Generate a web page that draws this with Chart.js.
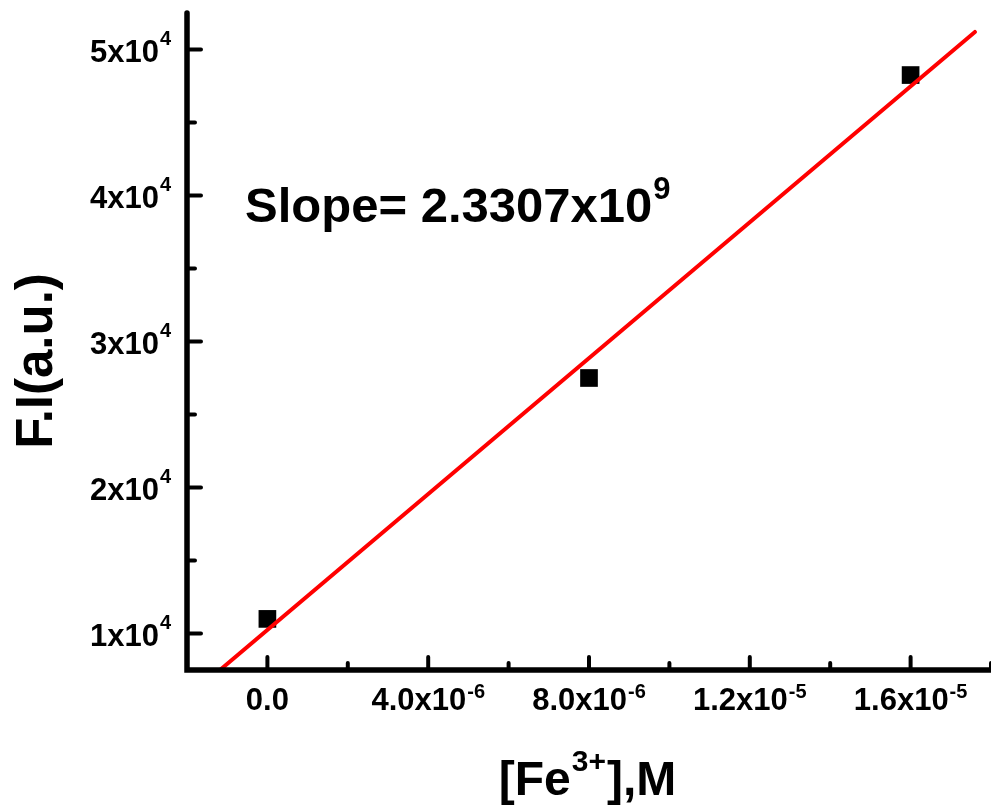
<!DOCTYPE html>
<html>
<head>
<meta charset="utf-8">
<script src="https://cdn.jsdelivr.net/npm/chart.js@4.4.0/dist/chart.umd.min.js"></script>
<style>
  html, body { margin: 0; padding: 0; background: #fff; }
  canvas { display: block; }
</style>
</head>
<body>
<canvas id="chart" width="991" height="805"></canvas>
<script>
// measured points
const concentrations = [0, 8e-6, 1.6e-5];
const intensities = [11000, 27500, 48250];

// ends of the fitted line
const fitX = [-1.18e-6, 1.76e-5];
const fitY = [7500, 51200];

// axes
const xTicks = [0, 4e-6, 8e-6, 1.2e-5, 1.6e-5];
const xTickLabels = [['0.0', ''], ['4.0x10', '-6'], ['8.0x10', '-6'], ['1.2x10', '-5'], ['1.6x10', '-5']];
const xMinorTicks = [2e-6, 6e-6, 1e-5, 1.4e-5, 1.8e-5];
const yTicks = [10000, 20000, 30000, 40000, 50000];
const yTickLabels = [['1x10', '4'], ['2x10', '4'], ['3x10', '4'], ['4x10', '4'], ['5x10', '4']];
const yMinorTicks = [15000, 25000, 35000, 45000];

const FONT = '"Liberation Sans", Arial, sans-serif';

function font(size) {
  return 'bold ' + size + 'px ' + FONT;
}

// width of base text plus its superscript
function supWidth(ctx, base, sup, size, supSize) {
  ctx.font = font(size);
  let w = ctx.measureText(base).width;
  if (sup) {
    ctx.font = font(supSize);
    w += 1 + ctx.measureText(sup).width;
  }
  return w;
}
// draws base text followed by a raised superscript
function drawSup(ctx, base, sup, x, y, size, supSize, rise) {
  ctx.textAlign = 'left';
  ctx.textBaseline = 'alphabetic';
  ctx.font = font(size);
  ctx.fillText(base, x, y);
  const bw = ctx.measureText(base).width;
  if (sup) {
    ctx.font = font(supSize);
    ctx.fillText(sup, x + bw + 1, y - rise);
  }
}

const axesPlugin = {
  id: 'axesPlugin',
  afterDraw(chart) {
    const ctx = chart.ctx;
    const xs = chart.scales.x;
    const ys = chart.scales.y;
    const area = chart.chartArea;
    ctx.save();
    ctx.fillStyle = '#000';
    ctx.strokeStyle = '#000';
    ctx.lineCap = 'round';

    // ticks (pointing inwards)
    ctx.lineWidth = 4;
    xTicks.forEach(v => {
      const px = xs.getPixelForValue(v);
      ctx.beginPath(); ctx.moveTo(px, area.bottom); ctx.lineTo(px, area.bottom - 13); ctx.stroke();
    });
    xMinorTicks.forEach(v => {
      const px = xs.getPixelForValue(v);
      ctx.beginPath(); ctx.moveTo(px, area.bottom); ctx.lineTo(px, area.bottom - 7); ctx.stroke();
    });
    yTicks.forEach(v => {
      const py = ys.getPixelForValue(v);
      ctx.beginPath(); ctx.moveTo(area.left, py); ctx.lineTo(area.left + 14, py); ctx.stroke();
    });
    yMinorTicks.forEach(v => {
      const py = ys.getPixelForValue(v);
      ctx.beginPath(); ctx.moveTo(area.left, py); ctx.lineTo(area.left + 8, py); ctx.stroke();
    });

    // axis lines
    ctx.lineWidth = 5.5;
    ctx.beginPath();
    ctx.moveTo(area.left, area.top);
    ctx.lineTo(area.left, area.bottom);
    ctx.lineTo(area.right + 5, area.bottom);
    ctx.stroke();

    // tick labels
    xTicks.forEach((v, i) => {
      const px = xs.getPixelForValue(v);
      const [b, s] = xTickLabels[i];
      const w = supWidth(ctx, b, s, 31, 20);
      drawSup(ctx, b, s, px - w / 2, 710, 31, 20, 12);
    });
    yTicks.forEach((v, i) => {
      const py = ys.getPixelForValue(v);
      const [b, s] = yTickLabels[i];
      const w = supWidth(ctx, b, s, 31, 20);
      drawSup(ctx, b, s, 171 - w, py + 12, 31, 20, 17);
    });

    // axis titles
    const tw = supWidth(ctx, '[Fe', '3+', 48, 30);
    ctx.font = font(48);
    const rest = ctx.measureText('],M').width;
    const tx = 587 - (tw + rest) / 2;
    drawSup(ctx, '[Fe', '3+', tx, 795, 48, 30, 24);
    ctx.font = font(48);
    ctx.fillText('],M', tx + tw + 1, 795);

    ctx.save();
    ctx.translate(52, 361);
    ctx.rotate(-Math.PI / 2);
    ctx.font = font(51);
    ctx.textAlign = 'center';
    ctx.textBaseline = 'alphabetic';
    ctx.fillText('F.I(a.u.)', 0, 0);
    ctx.restore();

    // slope annotation
    drawSup(ctx, 'Slope= 2.3307x10', '9', 245, 222, 49, 31, 23);

    ctx.restore();
  }
};

new Chart(document.getElementById('chart'), {
  type: 'scatter',
  data: {
    datasets: [
      {
        label: 'Fit',
        type: 'line',
        data: fitX.map((x, i) => ({ x: x, y: fitY[i] })),
        borderColor: '#ff0000',
        borderWidth: 4,
        borderCapStyle: 'round',
        pointRadius: 0,
        fill: false,
        tension: 0
      },
      {
        label: 'F.I',
        data: concentrations.map((x, i) => ({ x: x, y: intensities[i] })),
        pointStyle: 'rect',
        pointRadius: 12.5,
        pointBackgroundColor: '#000',
        pointBorderColor: '#000',
        pointBorderWidth: 0
      }
    ]
  },
  options: {
    responsive: false,
    devicePixelRatio: 1,
    animation: false,
    layout: { autoPadding: false, padding: { left: 187, top: 13, right: 0, bottom: 135 } },
    plugins: {
      legend: { display: false },
      tooltip: { enabled: false }
    },
    scales: {
      x: { type: 'linear', display: false, min: -2e-6, max: 1.8e-5 },
      y: { type: 'linear', display: false, min: 7500, max: 52500 }
    }
  },
  plugins: [axesPlugin]
});
</script>
</body>
</html>
